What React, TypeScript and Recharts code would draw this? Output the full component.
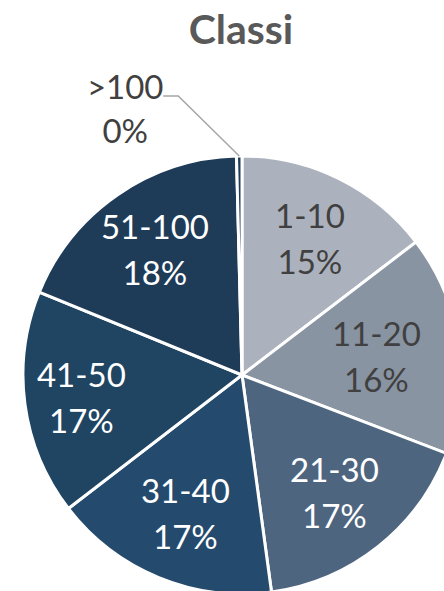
import { Cell, Pie, PieChart } from "recharts";

const categories = ["1-10", "11-20", "21-30", "31-40", "41-50", "51-100", ">100"];
const shares = [14.6, 16.2, 17.0, 16.7, 16.6, 18.4, 0.4];
const sliceColors = ["#abb2bd", "#8994a3", "#4e6580", "#244b6d", "#1f4563", "#1e3b58", "#1e3b58"];
const labelColors = ["#404040", "#404040", "#ffffff", "#ffffff", "#ffffff", "#ffffff", "#404040"];
const labelRadius = [0.7, 0.62, 0.68, 0.68, 0.74, 0.7, 1];

const data = categories.map((name, i) => ({ name, value: shares[i] }));

const RADIAN = Math.PI / 180;
const FONT = "Lato, 'Open Sans', sans-serif";

const renderLabel = (props: any) => {
  const { cx, cy, midAngle, outerRadius, percent, name, index } = props;
  const pct = `${Math.round(percent * 100)}%`;
  const cos = Math.cos(-midAngle * RADIAN);
  const sin = Math.sin(-midAngle * RADIAN);

  if (index === categories.length - 1) {
    // tiny slice: label sits outside with a leader line
    const ex = cx + outerRadius * cos;
    const ey = cy + outerRadius * sin;
    const bx = ex - 61;
    const by = ey - 60;
    const tx = bx - 15;
    return (
      <g>
        <polyline points={`${ex},${ey} ${bx},${by} ${tx},${by}`} fill="none" stroke="#a6a6a6" strokeWidth={1.5} />
        <text x={tx - 38} y={by + 3} textAnchor="middle" fill={labelColors[index]} fontSize={33} fontFamily={FONT}>
          {name}
        </text>
        <text x={tx - 38} y={by + 47} textAnchor="middle" fill={labelColors[index]} fontSize={33} fontFamily={FONT}>
          {pct}
        </text>
      </g>
    );
  }

  const r = outerRadius * labelRadius[index];
  const x = cx + r * cos;
  const y = cy + r * sin;
  return (
    <g>
      <text x={x} y={y - 23} textAnchor="middle" dominantBaseline="central" fill={labelColors[index]} fontSize={33} fontFamily={FONT}>
        {name}
      </text>
      <text x={x} y={y + 23} textAnchor="middle" dominantBaseline="central" fill={labelColors[index]} fontSize={33} fontFamily={FONT}>
        {pct}
      </text>
    </g>
  );
};

export default function App() {
  return (
    <div style={{ position: "absolute", left: 0, top: 0, width: 444, height: 591, background: "#fff" }}>
      <PieChart width={444} height={591} margin={{ top: 0, right: 0, bottom: 0, left: 0 }}>
        <text x={241} y={44} textAnchor="middle" fill="#595959" fontSize={41} fontWeight={700} fontFamily={FONT}>
          Classi
        </text>
        <Pie
          data={data}
          dataKey="value"
          nameKey="name"
          cx={242}
          cy={375}
          outerRadius={219}
          startAngle={90}
          endAngle={-270}
          stroke="#ffffff"
          strokeWidth={3}
          label={renderLabel}
          labelLine={false}
          isAnimationActive={false}
        >
          {data.map((d, i) => (
            <Cell key={d.name} fill={sliceColors[i]} />
          ))}
        </Pie>
      </PieChart>
    </div>
  );
}
